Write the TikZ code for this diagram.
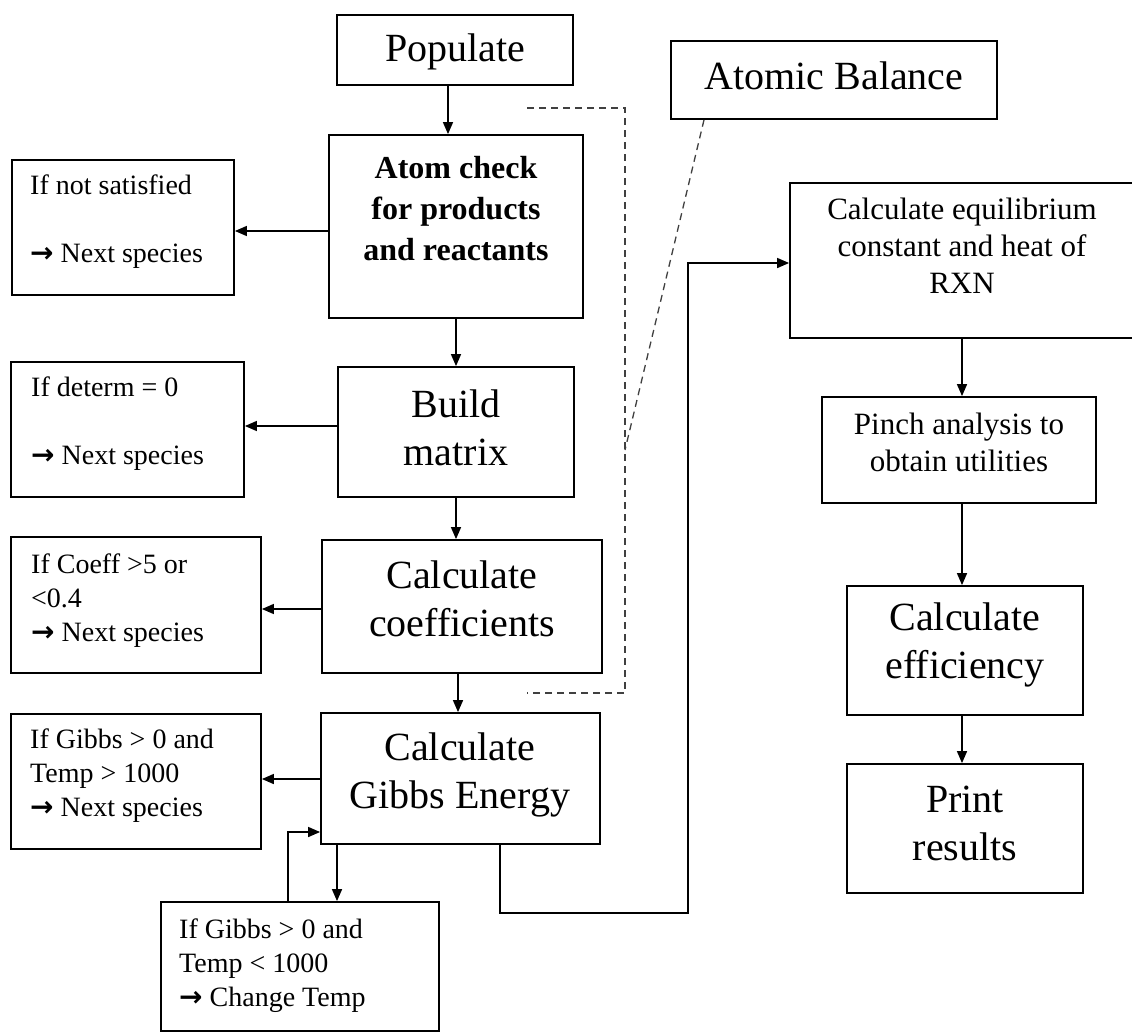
\documentclass[tikz,border=0pt]{standalone}
\usepackage{fontspec}
\setmainfont{Liberation Serif}
\newfontfamily\arrowfont{DejaVu Sans}
\usetikzlibrary{arrows.meta}
\tikzset{
 box/.style={draw, line width=1.8pt, inner sep=0pt, fill=white},
 arr/.style={line width=1.5pt, -{Triangle[length=12pt,width=10pt]}},
 dash line/.style={line width=1.3pt, dash pattern=on 7pt off 5pt, draw=black!75},
 big/.style={inner sep=0pt, align=center, font=\fontsize{40}{48}\selectfont},
 bold txt/.style={inner sep=0pt, align=center, font=\fontsize{32}{41}\selectfont\bfseries},
 mid/.style={inner sep=0pt, align=center, font=\fontsize{31}{37}\selectfont},
 small/.style={inner sep=0pt, align=left, anchor=west, font=\fontsize{28}{34}\selectfont},
}
\newcommand{\mkbox}[5]{\node[box, minimum width={(#4-#2)*1pt}, minimum height={(#5-#3)*1pt}] (#1) at ({(#2+#4)/2},{(#3+#5)/2}) {};}
\newcommand{\arw}{{\arrowfont\bfseries →}}
\begin{document}
\begin{tikzpicture}[x=1pt,y=-1pt]
\useasboundingbox (0,0) rectangle (1132,1034);
\fill[white] (0,0) rectangle (1132,1034);
% dashed bracket
\coordinate (d1) at (527,108);
\coordinate (d2) at (625,108);
\coordinate (d3) at (625,693);
\coordinate (d4) at (527,693);
\coordinate (d5) at (625,450);
\coordinate (c7) at (704,0);
\draw[dash line] (d1) -- (d2) -- (d3) -- (d4);
% boxes
\mkbox{pop}{337}{15}{573}{85}
\mkbox{ab}{671}{41}{997}{119}
\mkbox{ac}{329}{135}{583}{318}
\mkbox{ifn}{12}{160}{234}{295}
\mkbox{bm}{338}{367}{574}{497}
\mkbox{det}{11}{362}{244}{497}
\mkbox{cc}{322}{540}{602}{673}
\mkbox{coe}{11}{537}{261}{673}
\mkbox{gb}{321}{713}{600}{844}
\mkbox{gt}{11}{714}{261}{849}
\mkbox{gl}{161}{902}{439}{1031}
\mkbox{ce}{790}{183}{1134}{338}
\mkbox{pin}{822}{397}{1096}{503}
\mkbox{eff}{847}{586}{1083}{715}
\mkbox{pr}{847}{764}{1083}{893}
\draw[dash line] (ab.south -| c7) -- (d5);
% texts
\node[big] (pop-t) at (455,52) {Populate};
\node[big] (ab-t) at (834,76) {Atomic Balance};
\node[bold txt] (ac-t) at (456,209) {Atom check\\for products\\and reactants};
\node[big] (bm-t) at (456,428) {Build\\matrix};
\node[big] (cc-t) at (462,599) {Calculate\\coefficients};
\node[big] (gb-t) at (460,775) {Calculate\\Gibbs Energy};
\node[mid] (ce-t) at (962,246) {Calculate equilibrium\\constant and heat of\\RXN};
\node[mid] (pin-t) at (959,442) {Pinch analysis to\\obtain utilities};
\node[big] (eff-t) at (965,645) {Calculate\\efficiency};
\node[big] (pr-t) at (965,823) {Print\\results};
\node[small] (ifn-t) at (30,222) {If not satisfied\\\mbox{}\\\arw\ Next species};
\node[small] (det-t) at (31,424) {If determ = 0\\\mbox{}\\\arw\ Next species};
\node[small] (coe-t) at (31,601) {If Coeff >5 or\\<0.4\\\arw\ Next species};
\node[small] (gt-t) at (30,776) {If Gibbs > 0 and\\Temp > 1000\\\arw\ Next species};
\node[small] (gl-t) at (179,966) {If Gibbs > 0 and\\Temp < 1000\\\arw\ Change Temp};
% connector positions
\coordinate (c1) at (448,0);
\coordinate (r1) at (0,231);
\coordinate (r2) at (0,426);
\coordinate (r3) at (0,609);
\coordinate (c2) at (458,0);
\coordinate (r4) at (0,779);
\coordinate (c3) at (337,0);
\coordinate (c4) at (288,0);
\coordinate (r5) at (0,832);
\coordinate (c5) at (500,0);
\coordinate (k1) at (688,913);
\coordinate (r6) at (0,263);
\coordinate (c6) at (962,0);
% connectors
\draw[arr] (pop.south -| c1) -- (ac.north -| c1);
\draw[arr] (ac.west |- r1) -- (ifn.east |- r1);
\draw[arr] (ac.south) -- (bm.north);
\draw[arr] (bm.west |- r2) -- (det.east |- r2);
\draw[arr] (bm.south) -- (bm.south |- cc.north);
\draw[arr] (cc.west |- r3) -- (coe.east |- r3);
\draw[arr] (cc.south -| c2) -- (gb.north -| c2);
\draw[arr] (gb.west |- r4) -- (gt.east |- r4);
\draw[arr] (gb.south -| c3) -- (gl.north -| c3);
\draw[arr] (gl.north -| c4) |- (gb.west |- r5);
\draw[arr] (gb.south -| c5) |- (k1) |- (ce.west |- r6);
\draw[arr] (ce.south -| c6) -- (pin.north -| c6);
\draw[arr] (pin.south -| c6) -- (eff.north -| c6);
\draw[arr] (eff.south -| c6) -- (pr.north -| c6);
\end{tikzpicture}
\end{document}
